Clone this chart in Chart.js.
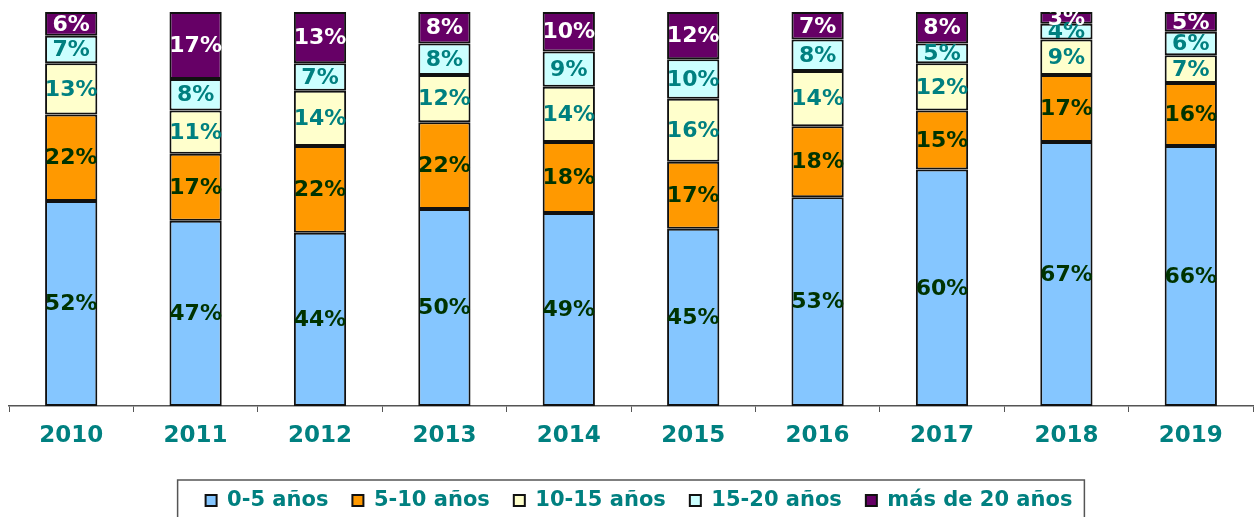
<!DOCTYPE html>
<html>
<head>
<meta charset="utf-8">
<script src="https://cdn.jsdelivr.net/npm/chart.js@4"></script>
<style>
  html, body { margin: 0; padding: 0; background: #fff; }
  #wrap { width: 1255px; height: 517px; }
</style>
</head>
<body>
<div id="wrap"><canvas id="antChart" width="1255" height="517"></canvas></div>
<script>
/*--------------------------------------------------------------------
Data
--------------------------------------------------------------------*/
const years = ["2010", "2011", "2012", "2013", "2014", "2015", "2016", "2017", "2018", "2019"];
const seriesNames = ["0-5 años", "5-10 años", "10-15 años", "15-20 años", "más de 20 años"];
const age0to5   = [52, 47, 44, 50, 49, 45, 53, 60, 67, 66];
const age5to10  = [22, 17, 22, 22, 18, 17, 18, 15, 17, 16];
const age10to15 = [13, 11, 14, 12, 14, 16, 14, 12, 9, 7];
const age15to20 = [7, 8, 7, 8, 9, 10, 8, 5, 4, 6];
const ageOver20 = [6, 17, 13, 8, 10, 12, 7, 8, 3, 5];

const fills = ["#85C6FF", "#FF9900", "#FFFFCC", "#CCFFFF", "#660066"];
const labelColors = ["#003300", "#003300", "#008080", "#008080", "#ffffff"];
const TEAL = "#008080";
const FONT = "'DejaVu Sans', sans-serif";

/*--------------------------------------------------------------------
Plugins: value labels inside segments, frame round the legend
--------------------------------------------------------------------*/
const segmentLabels = {
    id: "segmentLabels",
    afterDatasetsDraw(chart) {
        const ctx = chart.ctx;
        ctx.save();
        ctx.font = "bold 22px " + FONT;
        ctx.textAlign = "center";
        ctx.textBaseline = "middle";
        chart.data.datasets.forEach((ds, i) => {
            const meta = chart.getDatasetMeta(i);
            meta.data.forEach((bar, j) => {
                const v = ds.data[j];
                if (!v) return;
                ctx.fillStyle = labelColors[i];
                ctx.fillText(v + "%", bar.x, (bar.y + bar.base) / 2 + 1);
            });
        });
        ctx.restore();
    }
};

const legendFrame = {
    id: "legendFrame",
    afterLayout(chart) {
        // legend sits a little right of centre in the original
        if (chart.legend) {
            chart.legend.left += 8;
            chart.legend.right += 8;
        }
    },
    afterDraw(chart) {
        const lg = chart.legend;
        if (!lg || !lg.legendHitBoxes || !lg.legendHitBoxes.length) return;
        const boxes = lg.legendHitBoxes;
        const left = Math.min(...boxes.map(b => b.left)) - 28;
        const right = Math.max(...boxes.map(b => b.left + b.width)) + 12;
        const top = lg.top + 14;
        const ctx = chart.ctx;
        ctx.save();
        ctx.strokeStyle = "#555";
        ctx.lineWidth = 1.5;
        ctx.strokeRect(left, top, right - left, chart.height - top + 10);
        ctx.restore();
    }
};

/*--------------------------------------------------------------------
Chart
--------------------------------------------------------------------*/
const seriesValues = [age0to5, age5to10, age10to15, age15to20, ageOver20];

const ctx = document.getElementById("antChart").getContext("2d");
new Chart(ctx, {
    type: "bar",
    data: {
        labels: years,
        datasets: seriesNames.map((name, i) => ({
            label: name,
            data: seriesValues[i],
            backgroundColor: fills[i],
            borderColor: "#111",
            borderWidth: 2,
            borderSkipped: false,
            inflateAmount: 0,
            categoryPercentage: 1,
            barPercentage: 0.42
        }))
    },
    options: {
        responsive: false,
        animation: false,
        layout: { padding: { top: 12, left: 9, right: 2, bottom: 0 } },
        plugins: {
            tooltip: { enabled: false },
            legend: {
                position: "bottom",
                maxHeight: 51,
                labels: {
                    boxWidth: 11,
                    boxHeight: 11,
                    padding: 24,
                    color: TEAL,
                    font: { family: FONT, size: 21, weight: "bold", lineHeight: 1 }
                }
            }
        },
        scales: {
            x: {
                stacked: true,
                grid: { drawOnChartArea: false, drawTicks: true, tickLength: 6, color: "#555", offset: true },
                border: { display: true, color: "#555", width: 1.5 },
                ticks: {
                    color: TEAL,
                    padding: 10,
                    font: { family: FONT, size: 23, weight: "bold" }
                },
                afterFit(scale) { scale.height = 60; }
            },
            y: {
                stacked: true,
                display: false,
                min: 0,
                max: 100
            }
        }
    },
    plugins: [segmentLabels, legendFrame]
});
</script>
</body>
</html>
